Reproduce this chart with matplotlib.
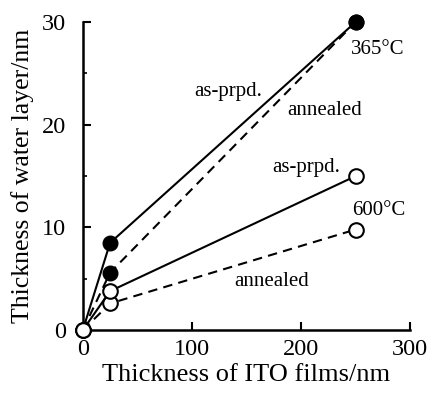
import numpy as np
import matplotlib
matplotlib.use("Agg")
import matplotlib.pyplot as plt

plt.rcParams['font.family'] = ['Liberation Serif', 'DejaVu Serif']

# ITO thickness (nm) and water-layer thickness (nm)
ito = [0, 25, 250]
w365_asprpd = [0, 8.5, 30.0]
w365_anneal = [0, 5.6, 30.0]
w600_asprpd = [0, 3.8, 15.0]
w600_anneal = [0, 2.6, 9.8]

fig = plt.figure(figsize=(4.29, 3.94), dpi=100)
ax = fig.add_axes([0.193, 0.162, 0.763, 0.782])

ms = 10.5
dash = (0, (4.5, 3))
ax.plot(ito, w365_anneal, ls=dash, color="black", lw=1.5,
        marker="o", ms=ms, mfc="black", mec="black", clip_on=False, zorder=3)
ax.plot(ito, w365_asprpd, "-", color="black", lw=1.5,
        marker="o", ms=ms, mfc="black", mec="black", clip_on=False, zorder=4)
ax.plot(ito, w600_anneal, ls=dash, color="black", lw=1.5,
        marker="o", ms=ms, mfc="white", mec="black", mew=1.5, clip_on=False, zorder=3)
ax.plot(ito, w600_asprpd, "-", color="black", lw=1.5,
        marker="o", ms=ms, mfc="white", mec="black", mew=1.5, clip_on=False, zorder=4)

fs = 15
ax.text(133, 23.2, "as-prpd.", ha="center", va="center", fontsize=fs)
ax.text(222, 21.4, "annealed", ha="center", va="center", fontsize=fs)
ax.text(270, 27.3, "365°C", ha="center", va="center", fontsize=fs)
ax.text(205, 15.8, "as-prpd.", ha="center", va="center", fontsize=fs)
ax.text(271, 11.7, "600°C", ha="center", va="center", fontsize=fs)
ax.text(173, 4.7, "annealed", ha="center", va="center", fontsize=fs)

ax.set_xlim(0, 300)
ax.set_ylim(0, 30)
ax.set_xticks([0, 100, 200, 300])
ax.set_yticks([0, 10, 20, 30])
ax.set_yticks([5, 15, 25], minor=True)
ax.tick_params(direction="in", length=6, width=1.5, labelsize=17.5)
ax.tick_params(axis="x", pad=6)
ax.tick_params(axis="y", pad=12)
ax.tick_params(which="minor", direction="in", length=3, width=1.2)
for s in ["top", "right"]:
    ax.spines[s].set_visible(False)
for s in ["left", "bottom"]:
    ax.spines[s].set_linewidth(1.8)

ax.set_xlabel("Thickness of ITO films/nm", fontsize=19, labelpad=3)
ax.set_ylabel("Thickness of water layer/nm", fontsize=18.5, labelpad=6)

fig.savefig("out.png", dpi=100)
